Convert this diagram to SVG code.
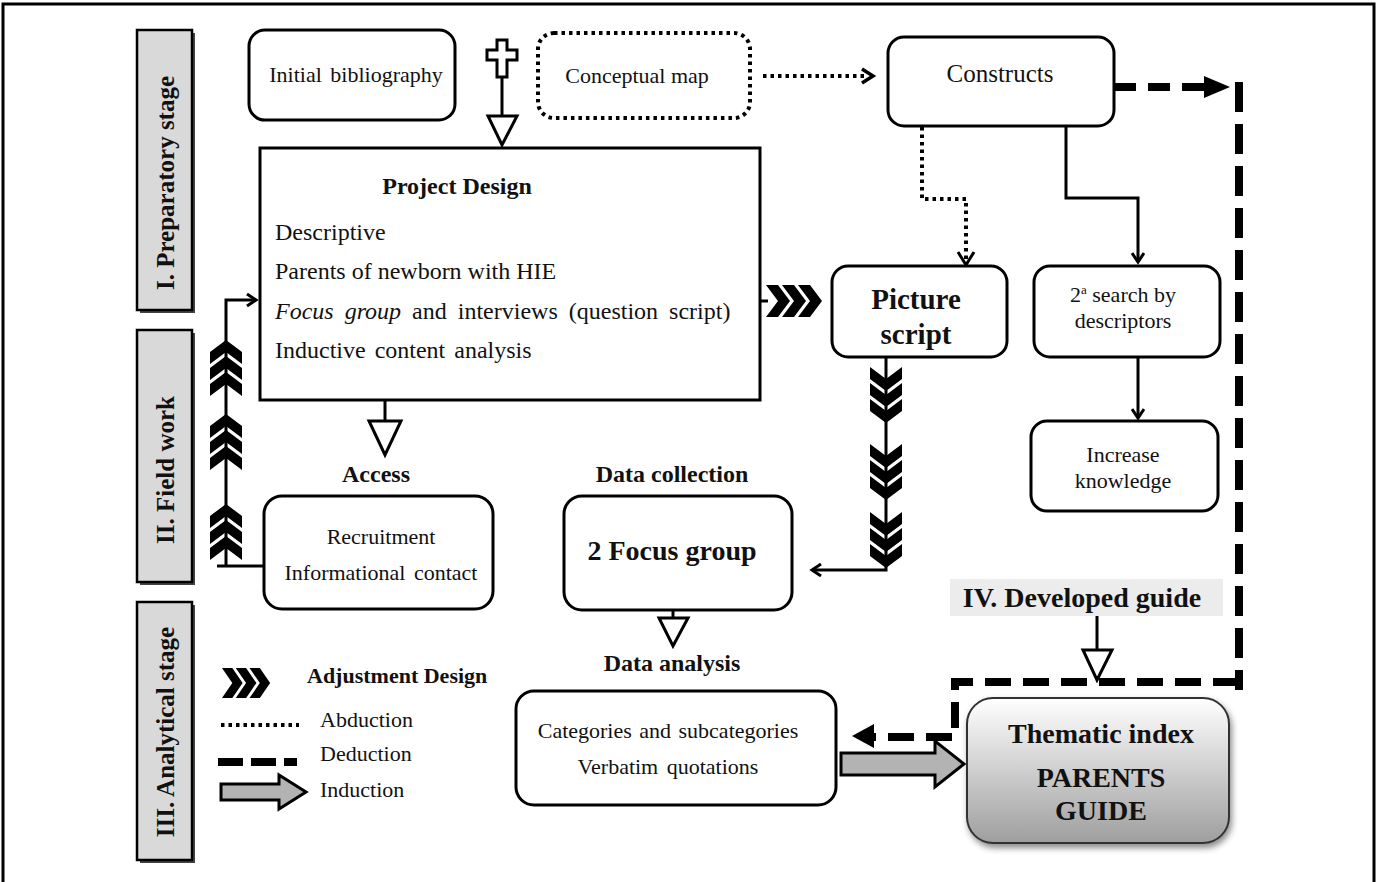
<svg xmlns="http://www.w3.org/2000/svg" width="1378" height="882" viewBox="0 0 1378 882">
<style>
text{font-family:"Liberation Serif","Times New Roman",serif;fill:#111}
.b{font-weight:bold}
.box{fill:#fff;stroke:#000;stroke-width:3}
.stage{fill:#d9d9d9;stroke:#000;stroke-width:2.5}
.sh{fill:#444}
.ln{fill:none;stroke:#000;stroke-width:3}
.dot{fill:none;stroke:#000;stroke-width:4;stroke-dasharray:3.5 4}
.dash{fill:none;stroke:#000;stroke-width:8;stroke-dasharray:22 12}
.tri{fill:#fff;stroke:#000;stroke-width:3;stroke-linejoin:miter}
.blk{fill:#b3b3b3;stroke:#000;stroke-width:3}
</style>
<defs>
<g id="chev3">
<polygon points="0,0 12,0 24,16 12,32 0,32 12,16"/>
<polygon points="16,0 28,0 40,16 28,32 16,32 28,16"/>
<polygon points="32,0 44,0 56,16 44,32 32,32 44,16"/>
</g>
<marker id="open" markerWidth="14" markerHeight="14" refX="11" refY="7" orient="auto" markerUnits="userSpaceOnUse"><path d="M2,1 L11,7 L2,13" fill="none" stroke="#000" stroke-width="3"/></marker>
<linearGradient id="gr" x1="0" y1="0" x2="0" y2="1"><stop offset="0" stop-color="#ffffff"/><stop offset="1" stop-color="#9e9e9e"/></linearGradient>
<filter id="ds" x="-10%" y="-10%" width="130%" height="130%"><feDropShadow dx="2" dy="4" stdDeviation="3" flood-color="#000" flood-opacity="0.45"/></filter>
</defs>

<path d="M3,890 V4 H1374 V890" fill="none" stroke="#000" stroke-width="3"/>

<g id="stage1"><rect class="sh" x="140" y="33" width="55" height="280"/><rect class="stage" x="137" y="30" width="55" height="280"/><text class="b" x="0" y="0" font-size="25" text-anchor="middle" transform="translate(174,183) rotate(-90)">I. Preparatory stage</text></g>
<g id="stage2"><rect class="sh" x="140" y="333" width="55" height="252"/><rect class="stage" x="137" y="330" width="55" height="252"/><text class="b" x="0" y="0" font-size="25" text-anchor="middle" transform="translate(174,470) rotate(-90)">II. Field work</text></g>
<g id="stage3"><rect class="sh" x="140" y="605" width="55" height="258"/><rect class="stage" x="137" y="602" width="55" height="258"/><text class="b" x="0" y="0" font-size="25" text-anchor="middle" transform="translate(174,732) rotate(-90)">III. Analytical stage</text></g>

<g id="connectors">
<path d="M497,40 h10 v10 h10 v10 h-10 v17 h-10 v-17 h-10 v-10 h10 z" fill="#fff" stroke="#000" stroke-width="3"/>
<path class="ln" d="M502,78 V116"/>
<polygon class="tri" points="488,116 517,116 502,145"/>
<path class="dot" d="M763,76 H866"/>
<path d="M862,69 L873,76 L862,83" fill="none" stroke="#000" stroke-width="3.5"/>
<path class="dash" d="M1114,87 H1205"/>
<polygon points="1204,76 1230,87 1204,98" fill="#000"/>
<path d="M1239,82 V690" fill="none" stroke="#000" stroke-width="8" stroke-dasharray="30 12"/>
<path d="M1239,682 H955 V737 H874" fill="none" stroke="#000" stroke-width="8" stroke-dasharray="26 12"/>
<polygon points="874,724 852,736 874,748" fill="#000"/>
<path class="dot" d="M922,127 V199 H966 V262"/>
<path d="M958,252 L966,265 L974,252" fill="none" stroke="#000" stroke-width="3"/>
<path class="ln" d="M1066,126 V198 H1138 V262" marker-end="url(#open)"/>
<path class="ln" d="M1138,357 V418" marker-end="url(#open)"/>
<path class="ln" d="M748,301 H768"/>
<use href="#chev3" transform="translate(766,285)"/>
<path class="ln" d="M886,357 V570 H812" marker-end="url(#open)"/>
<use href="#chev3" transform="translate(902,367) rotate(90)"/>
<use href="#chev3" transform="translate(902,444) rotate(90)"/>
<use href="#chev3" transform="translate(902,512) rotate(90)"/>
<path class="ln" d="M385,400 V421"/>
<polygon class="tri" points="369,421 401,421 385,455"/>
<path class="ln" d="M673,610 V618"/>
<polygon class="tri" points="659,618 688,618 673,646"/>
<path class="ln" d="M264,566 H217"/>
<path class="ln" d="M226,566 V300 H256" marker-end="url(#open)"/>
<use href="#chev3" transform="translate(210,396) rotate(-90)"/>
<use href="#chev3" transform="translate(210,470) rotate(-90)"/>
<use href="#chev3" transform="translate(210,560) rotate(-90)"/>
<path class="ln" d="M1097,616 V650"/>
<polygon class="tri" points="1083,650 1112,650 1097,680"/>
<polygon class="blk" points="841,753 935,753 935,741 964,764 935,787 935,775 841,775"/>
</g>

<g id="initial-bibliography"><rect class="box" x="249" y="30" width="206" height="90" rx="16"/><text x="356" y="82" font-size="22" text-anchor="middle" word-spacing="3">Initial bibliography</text></g>
<g id="conceptual-map"><rect x="538" y="33" width="212" height="85" rx="16" fill="#fff" stroke="#000" stroke-width="4" stroke-dasharray="3.5 4"/><text x="637" y="83" font-size="22" text-anchor="middle">Conceptual map</text></g>
<g id="constructs"><rect class="box" x="888" y="37" width="226" height="89" rx="16"/><text x="1000" y="82" font-size="25" text-anchor="middle">Constructs</text></g>
<g id="project-design"><rect class="box" x="260" y="148" width="500" height="252"/>
<text class="b" x="457" y="194" font-size="24" text-anchor="middle">Project Design</text>
<text x="275" y="240" font-size="24">Descriptive</text>
<text x="275" y="279" font-size="24">Parents of newborn with HIE</text>
<text x="275" y="319" font-size="24" word-spacing="5"><tspan font-style="italic">Focus group</tspan> and interviews (question script)</text>
<text x="275" y="358" font-size="24" word-spacing="3">Inductive content analysis</text></g>
<g id="picture-script"><rect class="box" x="832" y="266" width="175" height="91" rx="16"/><text class="b" x="916" y="309" font-size="29" text-anchor="middle">Picture</text><text class="b" x="916" y="344" font-size="29" text-anchor="middle">script</text></g>
<g id="search"><rect class="box" x="1034" y="266" width="186" height="91" rx="16"/><text x="1123" y="302" font-size="22" text-anchor="middle">2<tspan font-size="13" dy="-8">a</tspan><tspan dy="8"> search by</tspan></text><text x="1123" y="328" font-size="22" text-anchor="middle">descriptors</text></g>
<g id="increase-knowledge"><rect class="box" x="1031" y="421" width="187" height="90" rx="16"/><text x="1123" y="462" font-size="22" text-anchor="middle">Increase</text><text x="1123" y="488" font-size="22" text-anchor="middle">knowledge</text></g>
<g id="access"><text class="b" x="376" y="482" font-size="24" text-anchor="middle">Access</text></g>
<g id="recruitment"><rect class="box" x="264" y="496" width="229" height="113" rx="18"/><text x="381" y="544" font-size="22" text-anchor="middle">Recruitment</text><text x="381" y="580" font-size="22" text-anchor="middle" word-spacing="3">Informational contact</text></g>
<g id="data-collection"><text class="b" x="672" y="482" font-size="24" text-anchor="middle">Data collection</text><rect class="box" x="564" y="496" width="228" height="114" rx="18"/><text class="b" x="672" y="560" font-size="28" text-anchor="middle">2 Focus group</text></g>
<g id="data-analysis"><text class="b" x="672" y="671" font-size="24" text-anchor="middle">Data analysis</text><rect class="box" x="516" y="691" width="320" height="114" rx="18"/><text x="668" y="738" font-size="22" text-anchor="middle" word-spacing="2">Categories and subcategories</text><text x="668" y="774" font-size="22" text-anchor="middle" word-spacing="3">Verbatim quotations</text></g>
<g id="developed-guide"><rect x="950" y="579" width="273" height="37" fill="#ececec"/><text class="b" x="1082" y="607" font-size="28" text-anchor="middle">IV. Developed guide</text></g>
<g id="thematic-index"><rect x="967" y="698" width="262" height="145" rx="26" fill="url(#gr)" stroke="#333" stroke-width="2" filter="url(#ds)"/><text class="b" x="1101" y="743" font-size="28" text-anchor="middle">Thematic index</text><text class="b" x="1101" y="787" font-size="28" text-anchor="middle">PARENTS</text><text class="b" x="1101" y="820" font-size="28" text-anchor="middle">GUIDE</text></g>

<g id="legend">
<use href="#chev3" transform="translate(222,668) scale(0.86,0.94)"/>
<text class="b" x="307" y="683" font-size="22">Adjustment Design</text>
<path class="dot" d="M221,725 H299" stroke-width="4"/>
<text x="320" y="727" font-size="22">Abduction</text>
<path d="M218,762 H297" fill="none" stroke="#000" stroke-width="8" stroke-dasharray="25 8"/>
<text x="320" y="761" font-size="22">Deduction</text>
<polygon class="blk" points="221,784 279,784 279,775 306,792 279,809 279,800 221,800"/>
<text x="320" y="797" font-size="22">Induction</text>
</g>
</svg>
